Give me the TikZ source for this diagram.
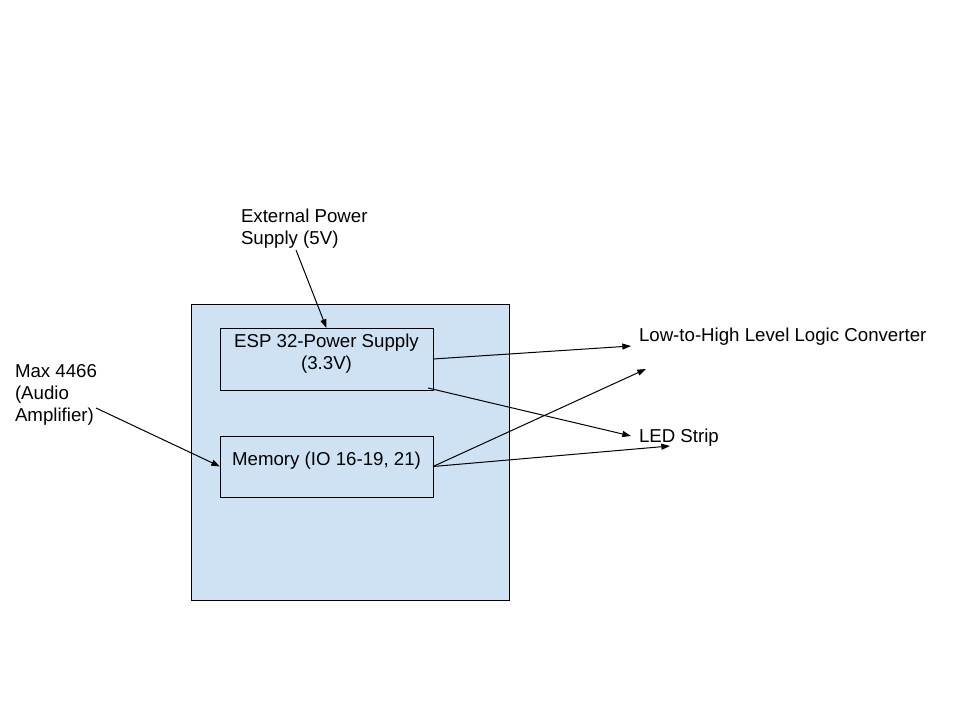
\documentclass[tikz,border=0pt]{standalone}
\usepackage{fontspec}
\setmainfont{Liberation Sans}
\usetikzlibrary{arrows.meta}
\definecolor{panelblue}{HTML}{CFE2F3}
\begin{document}
\begin{tikzpicture}[x=0.75pt,y=-0.75pt,
  every node/.style={font=\fontsize{14}{16.5}\selectfont},
  boxnode/.style={draw=black, line width=0.75pt, fill=panelblue, inner sep=0pt, outer sep=0pt, anchor=north west},
  txt/.style={inner sep=0pt, outer sep=0pt, text=black},
  conn/.style={draw=black, line width=0.75pt, -{Triangle[length=6.5pt,width=4.5pt]}}
]
\useasboundingbox[fill=white] (0,0) rectangle (960,720);
% outer panel
\node[boxnode, minimum width=238.5pt, minimum height=221.25pt] (panel) at (191,305) {};
% inner boxes
\node[boxnode, minimum width=159.75pt, minimum height=46.5pt] (esp) at (220,328) {};
\node[boxnode, minimum width=159.75pt, minimum height=45.75pt] (mem) at (220,436) {};
\node[txt, anchor=base, align=center] (esptxt) at (326.5,369) {ESP 32-Power Supply\\(3.3V)};
\node[txt, anchor=base] (memtxt) at (326.5,465) {Memory (IO 16-19, 21)};
% outside labels
\node[txt, anchor=base west, align=left] (ext) at (241,245) {External Power\\Supply (5V)};
\node[txt, anchor=base west, align=left] (max) at (15,421) {Max 4466\\(Audio\\Amplifier)};
\node[txt, anchor=base west] (llc) at (639,341) {Low-to-High Level Logic Converter};
\node[txt, anchor=base west] (led) at (639,442) {LED Strip};
% connector ends
\coordinate (extout) at (296,250);
\coordinate (maxout) at (96,408);
\coordinate (espse) at (428,388);
\coordinate (llcin) at (631,346);
\coordinate (ledin) at (631,436);
\coordinate (freeend) at (646,369);
\coordinate (ledin2) at (670,446);
% connectors
\draw[conn] (extout) -- (esp.north);
\draw[conn] (maxout) -- (mem.west);
\draw[conn] (esp.east) -- (llcin);
\draw[conn] (espse) -- (ledin);
\draw[conn] (mem.east) -- (freeend);
\draw[conn] (mem.east) -- (ledin2);
\end{tikzpicture}
\end{document}
